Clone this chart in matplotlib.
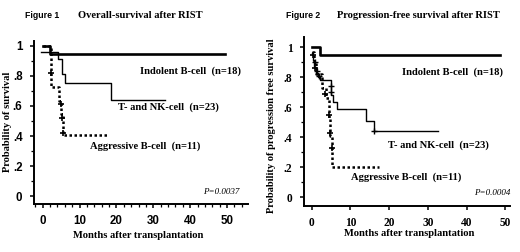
import matplotlib
matplotlib.use("Agg")
import matplotlib.pyplot as plt
from matplotlib.ticker import MultipleLocator, FuncFormatter

# ---- data ----
# Figure 1: overall survival
os_ind_t = [0, 2.0, 49.5]
os_ind_s = [1.0, 0.944, 0.944]
os_tnk_t = [-0.6, 0, 4.2, 5.2, 6.1, 18.5, 33.3]
os_tnk_s = [0.957, 0.957, 0.91, 0.81, 0.755, 0.64, 0.64]
os_agg_t = [0, 2.2, 4.4, 4.9, 5.5, 17.5]
os_agg_s = [1.0, 0.727, 0.636, 0.545, 0.41, 0.41]
os_agg_cens_t = [2.2, 5.0, 5.3, 5.5]
os_agg_cens_s = [0.82, 0.61, 0.52, 0.42]

# Figure 2: progression-free survival
pfs_ind_t = [0, 2.2, 48.7]
pfs_ind_s = [1.0, 0.944, 0.944]
pfs_tnk_t = [0, 0.3, 0.7, 1.1, 1.6, 2.2, 5.1, 5.6, 6.5, 14.0, 16.0, 32.7]
pfs_tnk_s = [0.957, 0.913, 0.87, 0.826, 0.8, 0.78, 0.68, 0.635, 0.585, 0.51, 0.44, 0.44]
pfs_agg_t = [0, 0.5, 1.2, 2.6, 3.6, 4.4, 4.8, 5.3, 17.5]
pfs_agg_s = [0.97, 0.909, 0.818, 0.727, 0.66, 0.52, 0.41, 0.2, 0.2]
pfs_tnk_cens_t = [0.8, 1.4, 2.0, 5.1, 5.1, 16.0]
pfs_tnk_cens_s = [0.9, 0.84, 0.81, 0.74, 0.7, 0.44]
pfs_agg_cens_t = [0.3, 0.9, 3.5, 4.5, 4.8, 5.3]
pfs_agg_cens_s = [0.95, 0.86, 0.69, 0.55, 0.43, 0.33]

serif = ["Liberation Serif", "DejaVu Serif"]
sans = ["Liberation Sans", "DejaVu Sans"]
narrow = ["Liberation Sans Narrow", "Liberation Sans", "DejaVu Sans"]

fig = plt.figure(figsize=(5.2, 2.52), dpi=100)
W, H = 520, 252


def fx(px):
    return px / W


def fy(py):
    return 1 - py / H


def style_axes(ax, tickfam):
    for s in ("top", "right"):
        ax.spines[s].set_visible(False)
    for s in ("left", "bottom"):
        ax.spines[s].set_linewidth(1.4)
    ax.yaxis.set_major_locator(MultipleLocator(0.2))
    ax.yaxis.set_minor_locator(MultipleLocator(0.1))
    ax.xaxis.set_major_locator(MultipleLocator(10))
    ax.yaxis.set_major_formatter(FuncFormatter(
        lambda v, p: "0" if abs(v) < 1e-9 else ("1" if abs(v - 1) < 1e-9 else ("%.1f" % v)[1:])))
    ax.tick_params(which="major", direction="out", length=3, width=1.1, pad=5)
    ax.tick_params(which="minor", direction="out", length=2, width=0.9)
    for lab in ax.get_xticklabels() + ax.get_yticklabels():
        lab.set_family(tickfam)
        lab.set_fontweight("bold")
        lab.set_fontsize(8.3)


# ---- panel 1 ----
ax1 = fig.add_axes([fx(33.5), fy(204), fx(248 - 33.5), (204 - 41) / H])
ax1.set_xlim(-2.5, 55.7)
ax1.set_ylim(-0.053, 1.033)
ax1.xaxis.set_minor_locator(MultipleLocator(2))
ax1.step(os_ind_t, os_ind_s, where="post", color="black", lw=1.9)
ax1.step(os_tnk_t, os_tnk_s, where="post", color="black", lw=1.0)
ax1.step(os_agg_t, os_agg_s, where="post", color="black", lw=1.8, ls=(0, (1, 1)))
ax1.plot(os_agg_cens_t, os_agg_cens_s, "+", color="black", ms=4, mew=1.2)
style_axes(ax1, narrow)

tf = dict(family=serif, fontweight="bold", fontsize=7.6)
ax1.text(26.4, 0.835, "Indolent B-cell  (n=18)", va="center", **tf)
ax1.text(20.4, 0.593, "T- and NK-cell  (n=23)", va="center", **tf)
ax1.text(12.8, 0.329, "Aggressive B-cell  (n=11)", va="center", **tf)
ax1.text(53.5, 0.024, "P=0.0037", ha="right", va="center", family=serif,
         style="italic", fontsize=6.5)

fig.text(fx(138), fy(235), "Months after transplantation", ha="center", va="center", **tf)
fig.text(fx(8), fy(122), "Probability of survival", rotation=90, ha="center",
         va="center", **tf)
fig.text(fx(25), fy(16), "Figure 1", family=sans, fontweight="bold", fontsize=6.3,
         va="center")
fig.text(fx(78), fy(16), "Overall-survival after RIST", family=serif,
         fontweight="bold", fontsize=7.6, va="center")

# ---- panel 2 ----
ax2 = fig.add_axes([fx(303.5), fy(206), fx(510 - 303.5), (206 - 37) / H])
ax2.set_xlim(-2.1, 51.2)
ax2.set_ylim(-0.06, 1.067)
ax2.step(pfs_ind_t, pfs_ind_s, where="post", color="black", lw=1.9)
ax2.step(pfs_tnk_t, pfs_tnk_s, where="post", color="black", lw=1.0)
ax2.step(pfs_agg_t, pfs_agg_s, where="post", color="black", lw=1.8, ls=(0, (1, 1)))
ax2.plot(pfs_tnk_cens_t, pfs_tnk_cens_s, "+", color="black", ms=4, mew=1.0)
ax2.plot(pfs_agg_cens_t, pfs_agg_cens_s, "+", color="black", ms=4, mew=1.2)
style_axes(ax2, serif)

ax2.text(23.3, 0.835, "Indolent B-cell  (n=18)", va="center", **tf)
ax2.text(19.6, 0.347, "T- and NK-cell  (n=23)", va="center", **tf)
ax2.text(10.1, 0.129, "Aggressive B-cell  (n=11)", va="center", **tf)
ax2.text(51.2, 0.029, "P=0.0004", ha="right", va="center", family=serif,
         style="italic", fontsize=6.5, clip_on=False)

fig.text(fx(409), fy(234), "Months after transplantation", ha="center", va="center", **tf)
fig.text(fx(271), fy(126), "Probability of progression free survival", rotation=90,
         ha="center", va="center", **tf)
fig.text(fx(286), fy(16), "Figure 2", family=sans, fontweight="bold", fontsize=6.3,
         va="center")
fig.text(fx(337), fy(16), "Progression-free survival after RIST", family=serif,
         fontweight="bold", fontsize=7.6, va="center")

fig.savefig("out.png", dpi=100)
